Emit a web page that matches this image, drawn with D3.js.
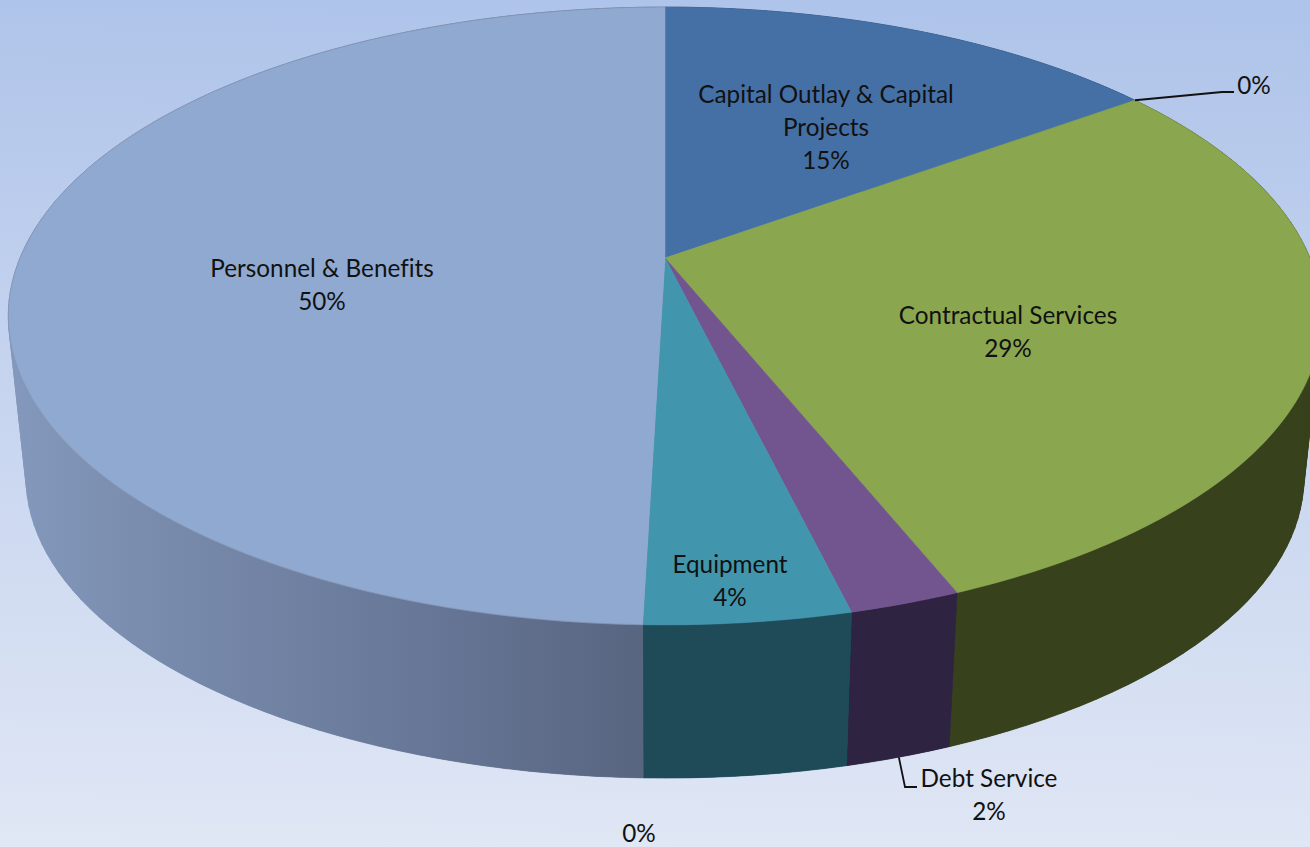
<!DOCTYPE html>
<html>
<head>
<meta charset="utf-8">
<script src="https://cdn.jsdelivr.net/npm/d3@7/dist/d3.min.js"></script>
<style>
  html, body { margin: 0; padding: 0; background: #dfe6f5; overflow: hidden; }
  svg { display: block; }
  text { font-family: Lato, "Open Sans", sans-serif; font-size: 24.3px; fill: #111; text-anchor: middle; font-variant-ligatures: none; }
</style>
</head>
<body>
<svg id="chart" width="1310" height="847"></svg>
<script>
// Budget share by expense category, in percent, clockwise from twelve o'clock.
const categories = ["Capital Outlay & Capital Projects", "", "Contractual Services", "Debt Service", "Equipment", "", "Personnel & Benefits"];
const shares = [15.0, 0, 28.9, 2.3, 4.25, 0, 49.55];
const topColors = ["#4570a6", "#4570a6", "#8aa64f", "#72558e", "#4196ae", "#4196ae", "#90a9d0"];
const wallColors = ["#2b4466", "#2b4466", "#37421c", "#2e2340", "#1f4a58", "#1f4a58", "url(#personnelWall)"];

// Screen layout of the labels: one entry per slice, lines are stacked from the first baseline.
const labelLayout = [
  { x: 826, y: 103, lines: ["Capital Outlay & Capital", "Projects"] },
  { x: 1254, y: 94, lines: [] },
  { x: 1008, y: 324, lines: ["Contractual Services"] },
  { x: 989, y: 787, lines: ["Debt Service"] },
  { x: 730, y: 573, lines: ["Equipment"] },
  { x: 639, y: 842, lines: [] },
  { x: 322, y: 277, lines: ["Personnel & Benefits"] }
];
const lineHeight = 33;

const svg = d3.select("#chart");
const defs = svg.append("defs");
const bg = defs.append("linearGradient").attr("id", "page")
  .attr("x1", 0.02).attr("y1", 0).attr("x2", 0).attr("y2", 1);
bg.append("stop").attr("offset", 0).attr("stop-color", "#afc4ea");
bg.append("stop").attr("offset", 0.45).attr("stop-color", "#c6d4ef");
bg.append("stop").attr("offset", 1).attr("stop-color", "#e0e7f5");
svg.append("rect").attr("width", 1310).attr("height", 847).attr("fill", "url(#page)");

// Shading of the large slice's wall, darkening towards the front of the disc.
const wallRamp = defs.append("linearGradient").attr("id", "personnelWall")
  .attr("gradientUnits", "userSpaceOnUse")
  .attr("x1", 15).attr("y1", 0).attr("x2", 645).attr("y2", 0);
[[0, "#8398bc"], [0.25, "#788aab"], [0.6, "#69799a"], [1, "#586580"]].forEach(([o, c]) =>
  wallRamp.append("stop").attr("offset", o).attr("stop-color", c));

// Perspective view of a tilted disc: the rim is foreshortened towards the top.
const apex = { x: 665, y: 258 };
const radiusX = 645, radiusY = 298, tilt = 0.1877;
// The underside of the disc shrinks slightly towards a far vanishing point.
const depthScale = 0.973, vanishY = 6300;

function rim(theta) {
  const u = Math.sin(theta), v = -Math.cos(theta), w = 1 - tilt * v;
  return [apex.x + radiusX * u / w, apex.y + radiusY * v / w];
}
function under(p) {
  return [apex.x + depthScale * (p[0] - apex.x), vanishY + depthScale * (p[1] - vanishY)];
}

const slices = d3.pie().sort(null).value(d => d)(shares);
const arcStep = 0.012;
const outline = d3.line();

function arcSamples(a0, a1, step = arcStep) {
  const n = Math.max(1, Math.ceil((a1 - a0) / step));
  return d3.range(n + 1).map(i => a0 + (a1 - a0) * i / n);
}

// Side wall of each slice: quads keep the silhouette filled where the wall
// turns away, and a single band over them hides the seams between quads.
const wall = svg.append("g");
slices.forEach((slice, i) => {
  if (slice.endAngle <= slice.startAngle) return;
  d3.pairs(arcSamples(slice.startAngle, slice.endAngle, 0.03)).forEach(([a, b]) => {
    const ra = rim(a), rb = rim(b);
    wall.append("path")
      .attr("d", outline([ra, rb, under(rb), under(ra)]) + "Z")
      .attr("fill", wallColors[i])
      .attr("stroke", wallColors[i])
      .attr("stroke-width", 0.6);
  });
  const edge = arcSamples(slice.startAngle, slice.endAngle).map(rim);
  wall.append("path")
    .attr("d", outline([...edge, ...edge.map(under).reverse()]) + "Z")
    .attr("fill", wallColors[i]);
});

// Top face of the disc.
const faces = svg.append("g");
slices.forEach((slice, i) => {
  if (slice.endAngle <= slice.startAngle) return;
  const curve = arcSamples(slice.startAngle, slice.endAngle).map(rim);
  faces.append("path")
    .attr("d", outline([[apex.x, apex.y], ...curve]) + "Z")
    .attr("fill", topColors[i])
    .attr("stroke", topColors[i])
    .attr("stroke-width", 0.6);
  // The light slice has a faint grey edge along the rim.
  if (i === slices.length - 1) {
    faces.append("path")
      .attr("d", outline(curve))
      .attr("fill", "none")
      .attr("stroke", "#7d8aa3")
      .attr("stroke-width", 0.8)
      .attr("opacity", 0.6);
  }
});

// Leader lines for the labels that sit outside the disc.
const leaders = svg.append("g").attr("fill", "none").attr("stroke", "#111").attr("stroke-width", 1.8);
const zeroAnchor = rim(slices[1].startAngle);
leaders.append("path").attr("d", outline([zeroAnchor, [1222, 92], [1234, 92]]));
const debtAnchor = under(rim((slices[3].startAngle + slices[3].endAngle) / 2));
leaders.append("path").attr("d", outline([debtAnchor, [905, 787], [917, 787]]));

// Category names and rounded percentages.
const pct = d => d3.format(".0f")(d) + "%";
const labels = svg.append("g");
labelLayout.forEach((lab, i) => {
  const rows = [...lab.lines, pct(shares[i])];
  const t = labels.append("text").attr("x", lab.x).attr("y", lab.y);
  rows.forEach((row, r) => {
    t.append("tspan").attr("x", lab.x).attr("y", lab.y + r * lineHeight).text(row);
  });
});
</script>
</body>
</html>
